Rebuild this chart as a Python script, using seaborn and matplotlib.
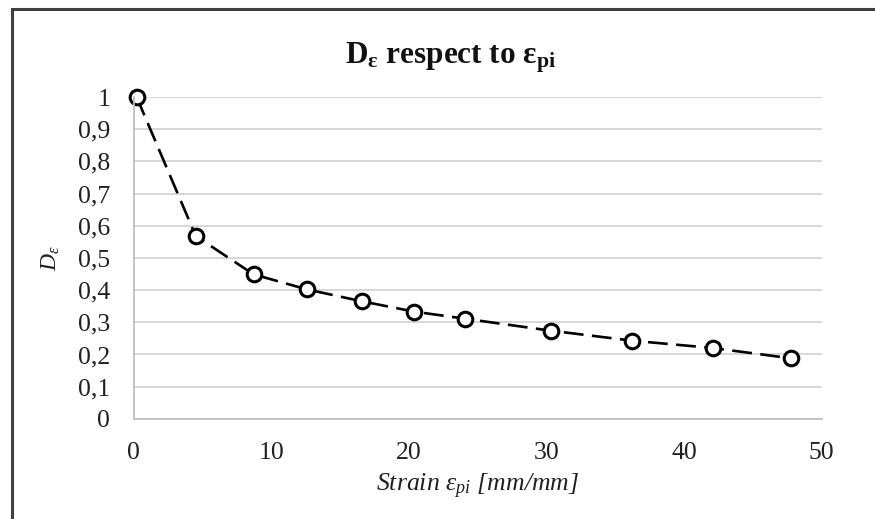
import numpy as np
import pandas as pd
import seaborn as sns
import matplotlib.pyplot as plt
from matplotlib.patches import Rectangle
from matplotlib.ticker import FuncFormatter

# dati
strain = [0.2, 4.5, 8.7, 12.6, 16.6, 20.4, 24.1, 30.3, 36.2, 42.1, 47.8]
d_eps = [1.0, 0.568, 0.449, 0.402, 0.365, 0.333, 0.311, 0.274, 0.243, 0.220, 0.188]
y_ticks = [0, 0.1, 0.2, 0.3, 0.4, 0.5, 0.6, 0.7, 0.8, 0.9, 1]
x_ticks = [0, 10, 20, 30, 40, 50]

df = pd.DataFrame({'strain': strain, 'd_eps': d_eps})

sns.set_theme(style='white')
plt.rcParams['font.family'] = ['Liberation Serif', 'DejaVu Serif']
plt.rcParams['mathtext.fontset'] = 'custom'
plt.rcParams['mathtext.rm'] = 'Liberation Serif'
plt.rcParams['mathtext.it'] = 'Liberation Serif:italic'
plt.rcParams['mathtext.bf'] = 'Liberation Serif:bold'

fig = plt.figure(figsize=(8.75, 5.19), dpi=100)
ax = fig.add_axes([0.153, 0.193, 0.786, 0.620])

# bordo esterno del grafico
fig.patches.append(Rectangle((12 / 875, -0.1), 1.2, 1 - 9 / 519 + 0.1,
                             transform=fig.transFigure, fill=False,
                             edgecolor='#404040', linewidth=2.2))

sns.lineplot(data=df, x='strain', y='d_eps', ax=ax, color='black',
             linewidth=1.9, marker='o', markersize=10.5,
             markerfacecolor='white', markeredgecolor='black',
             markeredgewidth=2.2)
ax.lines[0].set_dashes([7.5, 3.2])

ax.set_xlim(0, 50)
ax.set_ylim(0, 1)
ax.set_xticks(x_ticks)
ax.set_yticks(y_ticks)
ax.yaxis.set_major_formatter(FuncFormatter(lambda v, p: ('%g' % round(v, 1)).replace('.', ',')))
ax.grid(axis='y', color='#d4d4d4', linewidth=1.3)
ax.grid(axis='x', visible=False)
ax.set_axisbelow(True)
for s in ['top', 'right']:
    ax.spines[s].set_visible(False)
for s in ['left', 'bottom']:
    ax.spines[s].set_color('#bfbfbf')
    ax.spines[s].set_linewidth(1.3)
ax.tick_params(axis='both', length=0, labelsize=18.5, labelcolor='#202020')
ax.tick_params(axis='x', pad=17)
ax.tick_params(axis='y', pad=17)
for l in ax.lines:
    l.set_clip_on(False)

# titolo centrato sull'area del grafico, non sugli assi
fig.text(0.515, 0.877, r'D$_{\mathregular{ε}}$ respect to ε$_{\mathregular{pi}}$',
         fontsize=22.5, fontweight='bold', color='#111111',
         ha='center', va='baseline')
ax.set_xlabel(r'Strain ε$_{\mathregular{pi}}$ [mm/mm]', fontsize=18.5,
              style='italic', color='#202020', va='center')
ax.set_ylabel(r'D$_{\mathregular{ε}}$', fontsize=17, style='italic',
              color='#202020', va='center')
ax.xaxis.set_label_coords(0.5, -0.21)
ax.yaxis.set_label_coords(-0.12, 0.5)

plt.savefig('out.png', dpi=100, facecolor='white')
